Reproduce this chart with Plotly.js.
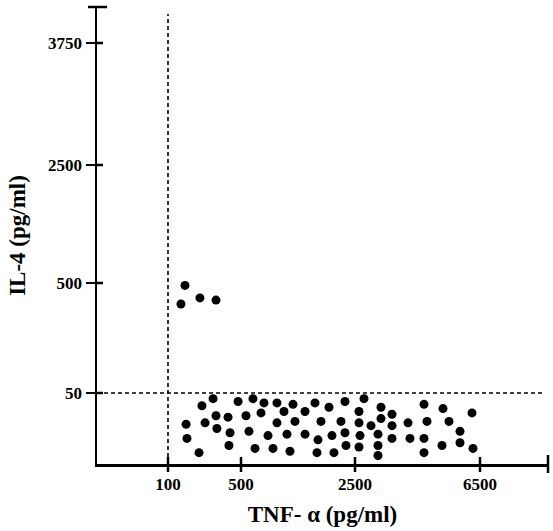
<!DOCTYPE html>
<html>
<head>
<meta charset="utf-8">
<script src="https://cdn.plot.ly/plotly-3.0.1.min.js"></script>
<style>html,body{margin:0;padding:0;background:#fff;}#chart{width:553px;height:531px;}</style>
</head>
<body>
<div id="chart"></div>
<script>
// TNF-α (pg/ml) and IL-4 (pg/ml) for each sample
const tnf = [193,171,275,363,
  347,286,363,429,199,303,368,440,204,434,270,
  484,710,903,1131,1412,1798,2044,588,851,1254,1623,1131,1447,1903,640,974,1307,1623,1851,2096,746,1061,1359,1833,2131,
  2324,2788,3332,4708,2628,3684,2254,2628,3012,3332,3684,4196,4804,2324,2660,3236,3684,4260,4708,2342,2628,3236,3236,4708,
  5316,6244,5508,5860,5860,5284,6276];
const il4 = [490,414,439,430,
  46,41,34,33,28,29,25,22,18,13,8,
  44,46,43,43,42,43,40,34,36,37,37,29,30,30,23,20,21,21,17,20,11,11,9,8,8,
  44,46,40,42,37,35,30,29,27,32,27,29,30,22,20,21,18,18,18,13,12,13,6,8,
  39,36,30,23,15,13,11];

const xTickVals = [100, 500, 2500, 6500];
const xTickText = ["100", "500", "2500", "6500"];
const yTickVals = [50, 500, 2500, 3750];
const yTickText = ["50", "500", "2500", "3750"];
const xCutoff = 100;
const yCutoff = 50;

// segmented (broken) axis scale definitions
const xBreakVals = [0, 100, 500, 2500, 6500];
const xBreakPos  = [0, 71, 144, 258, 383];
const yBreakVals = [0, 50, 500, 2500, 3750];
const yBreakPos  = [0, 71, 181, 299, 421];

function seg(v, vals, pos) {
  for (let i = 1; i < vals.length; i++) {
    if (v <= vals[i] || i === vals.length - 1) {
      return pos[i-1] + (v - vals[i-1]) * (pos[i] - pos[i-1]) / (vals[i] - vals[i-1]);
    }
  }
}
const sx = v => seg(v, xBreakVals, xBreakPos);
const sy = v => seg(v, yBreakVals, yBreakPos);

const W = 451, H = 457;
const font = "Liberation Serif, Times New Roman, serif";

const shapes = [];
const dashLine = {color: "#000", width: 1.6, dash: "4px,3px"};
shapes.push({type: "line", xref: "x", yref: "paper", x0: sx(xCutoff), x1: sx(xCutoff), y0: 0, y1: 450/H, line: dashLine});
shapes.push({type: "line", xref: "paper", yref: "y", x0: 0, x1: 448/W, y0: sy(yCutoff), y1: sy(yCutoff), line: dashLine});
// crossing ticks on x axis
xTickVals.forEach(v => shapes.push({type: "line", xref: "x", yref: "paper", x0: sx(v), x1: sx(v), y0: -8/H, y1: 7/H, line: {color: "#000", width: 2.5}}));
// inner halves of y ticks
yTickVals.forEach(v => shapes.push({type: "line", xref: "paper", yref: "y", x0: 0, x1: 6/W, y0: sy(v), y1: sy(v), line: {color: "#000", width: 2.5}}));
// end caps
shapes.push({type: "line", xref: "paper", yref: "paper", x0: -9/W, x1: 10/W, y0: 1, y1: 1, line: {color: "#000", width: 2.5}});
shapes.push({type: "line", xref: "paper", yref: "paper", x0: 1, x1: 1, y0: -9/H, y1: 9/H, line: {color: "#000", width: 2.5}});

const trace = {
  type: "scatter", mode: "markers",
  x: tnf.map(sx), y: il4.map(sy),
  marker: {color: "#000", size: 9},
  hoverinfo: "skip", cliponaxis: false
};

const layout = {
  width: 553, height: 531,
  margin: {l: 97, r: 5, t: 7, b: 67},
  paper_bgcolor: "#fff", plot_bgcolor: "#fff",
  showlegend: false,
  xaxis: {
    range: [0, W], showgrid: false, zeroline: false,
    showline: true, linecolor: "#000", linewidth: 2.5,
    ticks: "outside", ticklen: 3, tickwidth: 2.5, tickcolor: "#000",
    tickvals: xTickVals.map(sx), ticktext: xTickText,
    tickfont: {family: font, size: 17, color: "#000", weight: "bold"},
    title: {text: "TNF- α (pg/ml)", font: {family: font, size: 23, color: "#000", weight: "bold"}, standoff: 13}
  },
  yaxis: {
    range: [0, H], showgrid: false, zeroline: false,
    showline: true, linecolor: "#000", linewidth: 2.5,
    ticks: "outside", ticklen: 9, tickwidth: 2.5, tickcolor: "#000",
    tickvals: yTickVals.map(sy), ticktext: yTickText,
    tickfont: {family: font, size: 17, color: "#000", weight: "bold"},
    title: {text: "IL-4 (pg/ml)", font: {family: font, size: 23, color: "#000", weight: "bold"}, standoff: 16}
  },
  shapes: shapes,
  annotations: [{
    text: "B", xref: "paper", yref: "paper", x: -95/W, y: 1 + 5/H,
    xanchor: "left", yanchor: "bottom", showarrow: false,
    font: {family: font, size: 30, color: "#000", weight: "bold"}
  }]
};

Plotly.newPlot("chart", [trace], layout, {displayModeBar: false, staticPlot: true});
</script>
</body>
</html>
